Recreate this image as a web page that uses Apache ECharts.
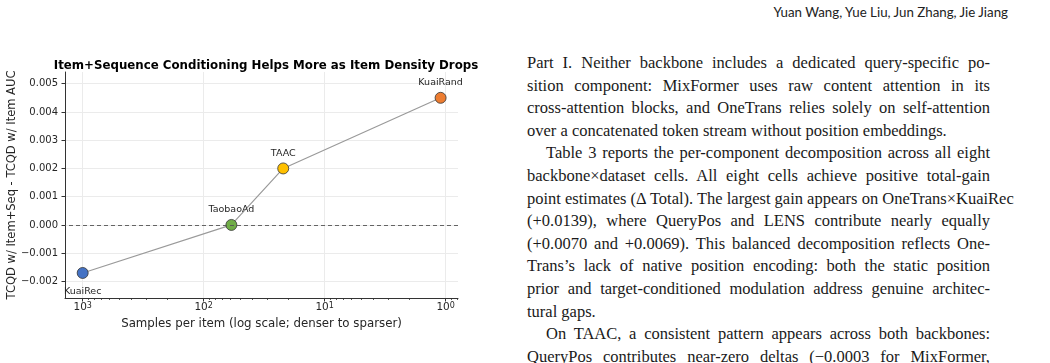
<!DOCTYPE html>
<html>
<head>
<meta charset="utf-8">
<script src="https://cdn.jsdelivr.net/npm/echarts@6/dist/echarts.min.js"></script>
<style>
  html, body {
    margin: 0;
    padding: 0;
    background: #fff;
  }
  .page {
    position: relative;
    width: 1050px;
    height: 363px;
    overflow: hidden;
  }
  #scatter {
    position: absolute;
    left: 0;
    top: 0;
    width: 500px;
    height: 363px;
  }
  .running-head {
    position: absolute;
    right: 42px;
    top: 4px;
    font-family: Lato, 'Noto Sans', sans-serif;
    font-size: 13.3px;
    color: #222;
    white-space: nowrap;
  }
  .body-text {
    position: absolute;
    left: 527px;
    top: 52px;
    width: 463px;
    font-family: 'Liberation Serif', serif;
    font-size: 16.5px;
    line-height: 22.6px;
    color: #1a1a1a;
  }
  .body-text div {
    height: 22.6px;
    white-space: nowrap;
  }
  .body-text .j {
    text-align: justify;
    text-align-last: justify;
    white-space: normal;
  }
  .body-text .ind {
    text-indent: 19px;
  }
</style>
</head>
<body>
<div class="page">
  <div id="scatter"></div>
  <div class="running-head">Yuan Wang, Yue Liu, Jun Zhang, Jie Jiang</div>
  <div class="body-text">
    <div class="j">Part I. Neither backbone includes a dedicated query-specific po-</div>
    <div class="j">sition component: MixFormer uses raw content attention in its</div>
    <div class="j">cross-attention blocks, and OneTrans relies solely on self-attention</div>
    <div>over a concatenated token stream without position embeddings.</div>
    <div class="j ind">Table 3 reports the per-component decomposition across all eight</div>
    <div class="j">backbone×dataset cells. All eight cells achieve positive total-gain</div>
    <div>point estimates (Δ Total). The largest gain appears on OneTrans×KuaiRec</div>
    <div class="j">(+0.0139), where QueryPos and LENS contribute nearly equally</div>
    <div class="j">(+0.0070 and +0.0069). This balanced decomposition reflects One-</div>
    <div class="j">Trans’s lack of native position encoding: both the static position</div>
    <div class="j">prior and target-conditioned modulation address genuine architec-</div>
    <div>tural gaps.</div>
    <div class="j ind">On TAAC, a consistent pattern appears across both backbones:</div>
    <div class="j">QueryPos contributes near-zero deltas (−0.0003 for MixFormer,</div>
  </div>
</div>
<script>
  // values
  const datasets = ['KuaiRec', 'TaobaoAd', 'TAAC', 'KuaiRand']
  const samplesPerItem = [1000, 59, 22, 1.1]
  const aucGain = [-0.0017, 0.0, 0.002, 0.0045]
  const pointColors = ['#4472c4', '#70ad47', '#ffc000', '#ed7d31']

  const yTicks = [-0.002, -0.001, 0, 0.001, 0.002, 0.003, 0.004, 0.005]
  const xTickExps = [3, 2, 1, 0]

  // minor ticks at 2..9 x 10^n (axis works in log10 space)
  const xMinMax = [Math.log10(0.79), Math.log10(1400)]
  const minorTicks = []
  for (let e = -1; e <= 3; e++) {
    for (let k = 2; k <= 9; k++) {
      const v = Math.log10(k * Math.pow(10, e))
      if (v >= xMinMax[0] && v <= xMinMax[1]) minorTicks.push(v)
    }
  }

  const font = 'DejaVu Sans'
  const ink = '#262626'

  const chart = echarts.init(document.getElementById('scatter'), null, { renderer: 'canvas' })

  const option = {
    animation: false,
    title: {
      text: 'Item+Sequence Conditioning Helps More as Item Density Drops',
      left: 261,
      top: 55,
      textAlign: 'center',
      textStyle: {
        fontFamily: font,
        fontSize: 11.8,
        fontWeight: 'bold',
        color: '#000'
      }
    },
    grid: {
      left: 65,
      top: 72,
      width: 393,
      height: 226,
      outerBoundsMode: 'none'
    },
    xAxis: [
      {
        type: 'value',
        inverse: true,
        min: xMinMax[0],
        max: xMinMax[1],
        name: 'Samples per item (log scale; denser to sparser)',
        nameLocation: 'middle',
        nameGap: 20,
        nameMoveOverlap: false,
        nameTextStyle: { fontFamily: font, fontSize: 11.8, color: ink },
        axisLine: { onZero: false, lineStyle: { color: '#333', width: 1 } },
        axisTick: {
          customValues: xTickExps,
          length: 3.5,
          lineStyle: { color: '#333' }
        },
        axisLabel: {
          customValues: xTickExps,
          margin: 4,
          formatter: (v) => '{b|10}{s|' + Math.round(v) + '}',
          rich: {
            b: { fontFamily: font, fontSize: 10.5, color: ink, verticalAlign: 'bottom' },
            s: { fontFamily: font, fontSize: 8, color: ink, verticalAlign: 'top' }
          }
        },
        splitLine: { show: true, lineStyle: { color: '#ebebeb', width: 1 } }
      },
      {
        type: 'value',
        inverse: true,
        min: xMinMax[0],
        max: xMinMax[1],
        position: 'bottom',
        axisLine: { show: false, onZero: false },
        axisTick: {
          customValues: minorTicks,
          length: 2,
          lineStyle: { color: '#333', width: 0.8 }
        },
        axisLabel: { show: false },
        splitLine: { show: false }
      }
    ],
    yAxis: {
      type: 'value',
      min: -0.002586,
      max: 0.005414,
      name: 'TCQD w/ Item+Seq - TCQD w/ Item AUC',
      nameLocation: 'middle',
      nameGap: 47,
      nameMoveOverlap: false,
      nameTextStyle: { fontFamily: font, fontSize: 11.5, color: ink },
      axisLine: { show: true, onZero: false, lineStyle: { color: '#333', width: 1 } },
      axisTick: {
        show: true,
        customValues: yTicks,
        length: 3.5,
        lineStyle: { color: '#333' }
      },
      axisLabel: {
        customValues: yTicks,
        margin: 7,
        fontFamily: font,
        fontSize: 10,
        color: ink,
        formatter: (v) => (v < -1e-9 ? '−' : '') + Math.abs(v).toFixed(3)
      },
      splitLine: { show: true, lineStyle: { color: '#ebebeb', width: 1 } }
    },
    series: [
      {
        type: 'line',
        xAxisIndex: 0,
        data: datasets.map((name, i) => ({
          name,
          value: [Math.log10(samplesPerItem[i]), aucGain[i]],
          itemStyle: { color: pointColors[i] },
          label: i === 0 ? { position: 'bottom', distance: 8 } : {}
        })),
        symbol: 'circle',
        symbolSize: 11,
        lineStyle: { color: '#9a9a9a', width: 1.2 },
        itemStyle: { borderColor: '#333', borderWidth: 0.8, opacity: 1 },
        label: {
          show: true,
          position: 'top',
          distance: 4.5,
          fontFamily: font,
          fontSize: 9.5,
          color: ink,
          formatter: (p) => p.name
        },
        markLine: {
          silent: true,
          symbol: 'none',
          label: { show: false },
          lineStyle: { color: '#555', type: [4, 3], width: 0.9 },
          data: [{ yAxis: 0 }]
        },
        z: 3
      }
    ]
  }

  chart.setOption(option)
</script>
</body>
</html>
